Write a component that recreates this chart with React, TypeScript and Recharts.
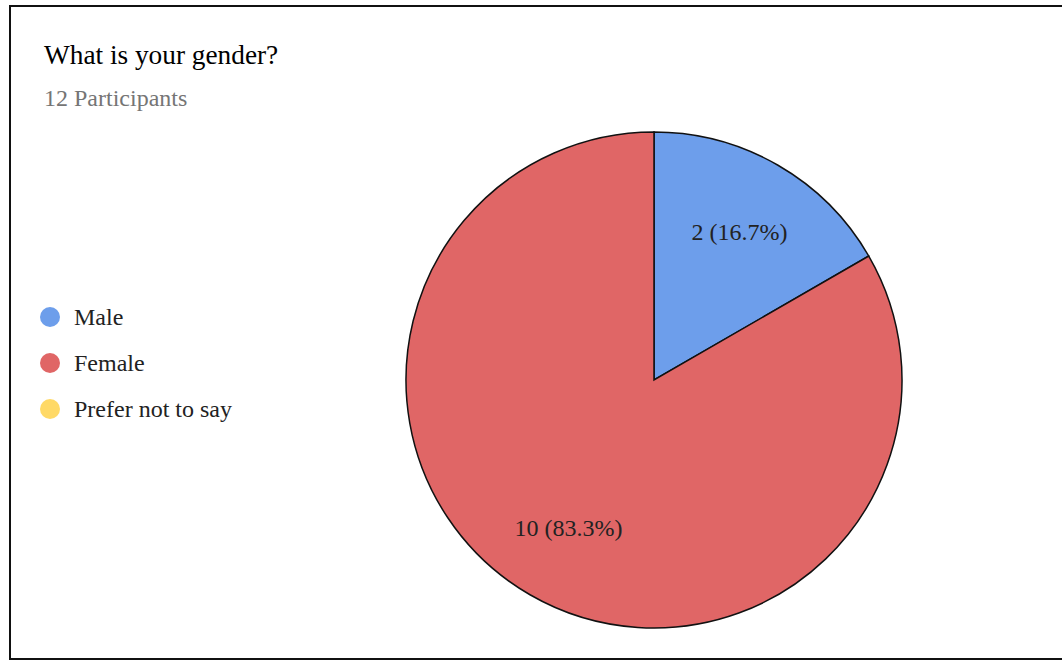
import React from "react";
import { PieChart, Pie, Cell, Legend } from "recharts";

const categories = ["Male", "Female", "Prefer not to say"];
const counts = [2, 10, 0];
const colors = ["#6d9eeb", "#e06666", "#ffd966"];

const title = "What is your gender?";
const subtitle = "12 Participants";

const data = categories.map((name, i) => ({ name, value: counts[i] }));

const FONT = '"Liberation Serif", "Times New Roman", serif';
const RADIAN = Math.PI / 180;

function renderLabel(props: any) {
  const { cx, cy, midAngle, outerRadius, value, percent } = props;
  if (!value) return null;
  const r = outerRadius * 0.69;
  const x = cx + r * Math.cos(-midAngle * RADIAN);
  const y = cy + r * Math.sin(-midAngle * RADIAN);
  return (
    <text
      x={x}
      y={y}
      fill="#222"
      fontSize={24}
      fontFamily={FONT}
      textAnchor="middle"
      dominantBaseline="central"
    >
      {`${value} (${(percent * 100).toFixed(1)}%)`}
    </text>
  );
}

function LegendList() {
  return (
    <div style={{ fontFamily: FONT }}>
      {categories.map((name, i) => (
        <div
          key={name}
          style={{ display: "flex", alignItems: "center", height: 46 }}
        >
          <span
            style={{
              display: "inline-block",
              width: 20,
              height: 20,
              borderRadius: "50%",
              background: colors[i],
              marginRight: 14,
            }}
          />
          <span style={{ fontSize: 24, color: "#222" }}>{name}</span>
        </div>
      ))}
    </div>
  );
}

export default function App() {
  return (
    <div
      style={{
        position: "absolute",
        left: 0,
        top: 0,
        width: 1062,
        height: 661,
        overflow: "hidden",
        background: "#fff",
      }}
    >
      <div
        style={{
          position: "absolute",
          left: 9,
          top: 5,
          width: 1080,
          height: 655,
          border: "2px solid #111",
          boxSizing: "border-box",
        }}
      />
      <div
        style={{
          position: "absolute",
          left: 44,
          top: 42,
          fontFamily: FONT,
          fontSize: 27.3,
          lineHeight: 1,
          color: "#000",
          whiteSpace: "nowrap",
        }}
      >
        {title}
      </div>
      <div
        style={{
          position: "absolute",
          left: 44,
          top: 86,
          fontFamily: FONT,
          fontSize: 24,
          lineHeight: 1,
          color: "#757575",
          whiteSpace: "nowrap",
        }}
      >
        {subtitle}
      </div>
      <div style={{ position: "absolute", left: 0, top: 0 }}>
        <PieChart
          width={1062}
          height={661}
          margin={{ top: 0, right: 0, bottom: 0, left: 0 }}
        >
          <Pie
            data={data}
            dataKey="value"
            nameKey="name"
            cx={654}
            cy={380}
            outerRadius={248}
            startAngle={90}
            endAngle={-270}
            stroke="#111"
            strokeWidth={1.5}
            label={renderLabel}
            labelLine={false}
            isAnimationActive={false}
          >
            {data.map((d, i) => (
              <Cell key={d.name} fill={colors[i]} />
            ))}
          </Pie>
          <Legend
            content={() => <LegendList />}
            wrapperStyle={{ position: "absolute", left: 40, top: 294, width: 260 }}
          />
        </PieChart>
      </div>
    </div>
  );
}
